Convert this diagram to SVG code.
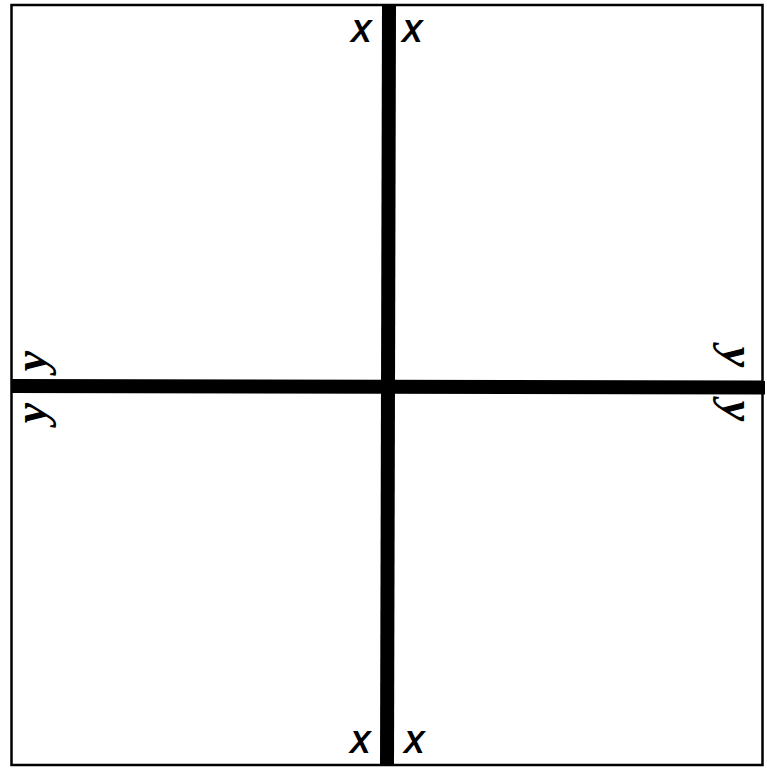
<svg xmlns="http://www.w3.org/2000/svg" width="767" height="769" viewBox="0 0 767 769">
<style>
.frame{fill:none;stroke:#000;stroke-width:2.5}
.axis{stroke:#000;stroke-width:14;stroke-linecap:butt}
.xl{font-family:"Liberation Sans",Arial,sans-serif;font-weight:bold;font-style:italic;font-size:31px;fill:#000;text-anchor:middle}
.yl{font-family:"Liberation Serif","Times New Roman",serif;font-style:italic;font-weight:bold;font-size:46px;fill:#000;text-anchor:middle}
</style>
<rect width="767" height="769" fill="#fff"/>
<g id="frame"><rect class="frame" x="11.5" y="5" width="751" height="760"/></g>
<g id="connectors">
<line class="axis" x1="389" y1="5" x2="387" y2="766"/>
<line class="axis" x1="11" y1="386" x2="765" y2="387.5"/>
</g>
<g id="labels-x">
<text class="xl" x="361" y="42">X</text>
<text class="xl" x="412" y="42">X</text>
<text class="xl" x="360" y="753">X</text>
<text class="xl" x="414" y="753">X</text>
</g>
<g id="labels-y">
<text class="yl" transform="translate(40,361) rotate(-90)" y="6">y</text>
<text class="yl" transform="translate(40,413) rotate(-90)" y="6">y</text>
<text class="yl" transform="translate(729,357) rotate(90)" y="6">y</text>
<text class="yl" transform="translate(729,411) rotate(90)" y="6">y</text>
</g>
</svg>
